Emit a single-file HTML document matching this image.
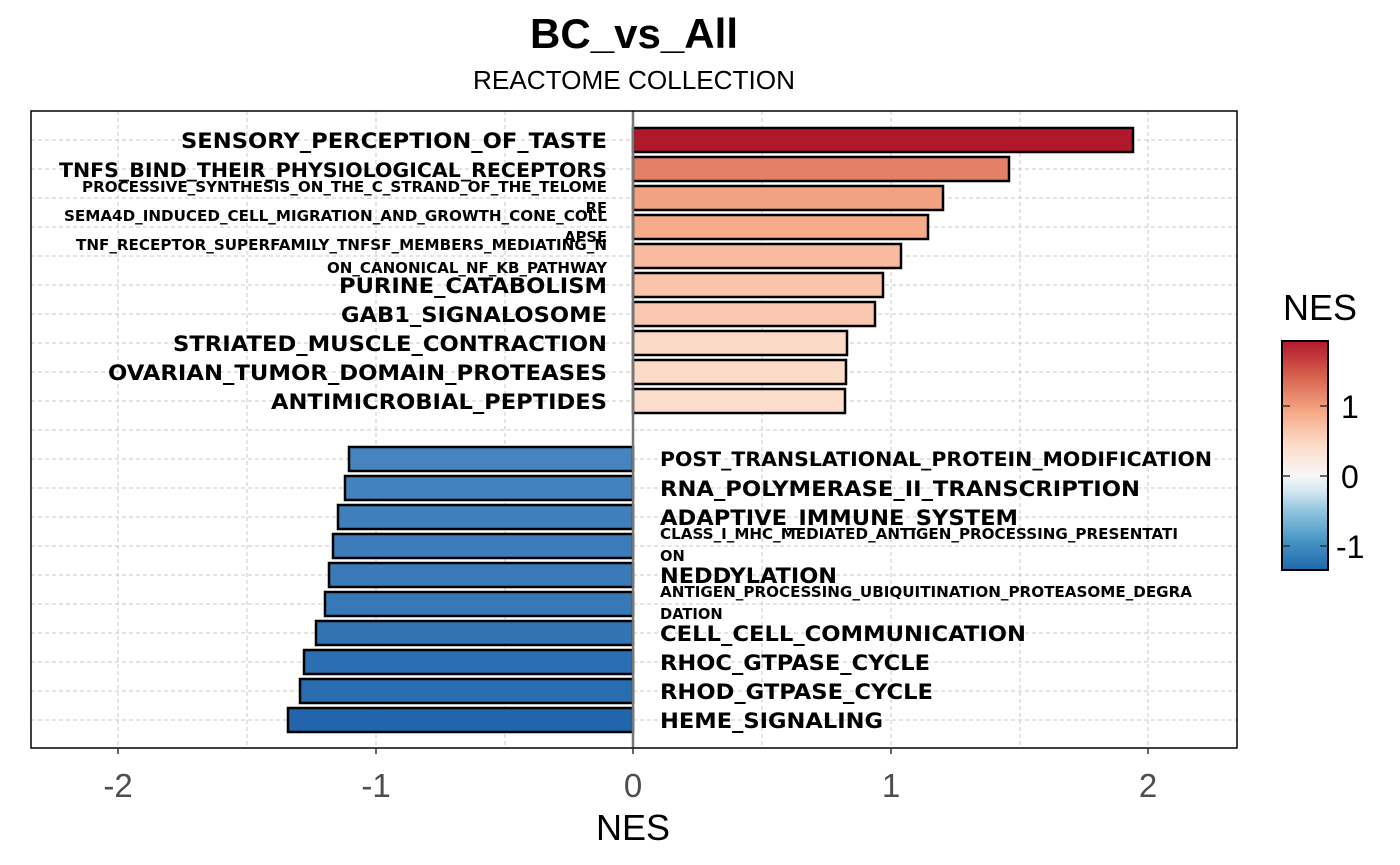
<!DOCTYPE html>
<html><head><meta charset="utf-8"><style>
html,body{margin:0;padding:0;background:#fff}
svg{display:block}
.lb{font-family:"DejaVu Sans","Liberation Sans",sans-serif;font-weight:bold;font-size:21.6px;fill:#000}
.lb2{font-family:"DejaVu Sans","Liberation Sans",sans-serif;font-weight:bold;font-size:19.6px;fill:#000}
.sm{font-family:"DejaVu Sans","Liberation Sans",sans-serif;font-weight:bold;font-size:14.7px;fill:#000}
.ax{font-family:"Liberation Sans",sans-serif;font-size:33px;fill:#4d4d4d}
</style></head><body>
<svg width="1400" height="865" viewBox="0 0 1400 865" xmlns="http://www.w3.org/2000/svg">
<defs><linearGradient id="g" x1="0" y1="1" x2="0" y2="0">
<stop offset="0" stop-color="#2166ac"/><stop offset="0.12" stop-color="#4393c3"/><stop offset="0.26" stop-color="#92c5de"/><stop offset="0.34" stop-color="#d1e5f0"/><stop offset="0.41" stop-color="#f7f7f7"/><stop offset="0.55" stop-color="#fddbc7"/><stop offset="0.7" stop-color="#f4a582"/><stop offset="0.85" stop-color="#d6604d"/><stop offset="1" stop-color="#b2182b"/>
</linearGradient></defs>
<text x="634" y="48" text-anchor="middle" font-family="Liberation Sans,sans-serif" font-weight="bold" font-size="42" textLength="208" lengthAdjust="spacingAndGlyphs">BC_vs_All</text>
<text x="634" y="89" text-anchor="middle" font-family="Liberation Sans,sans-serif" font-size="26" textLength="322" lengthAdjust="spacingAndGlyphs">REACTOME COLLECTION</text>
<g stroke="#c8c8c8" stroke-width="1" stroke-dasharray="4,3" fill="none">
<line x1="118" y1="111" x2="118" y2="748"/><line x1="247" y1="111" x2="247" y2="748"/><line x1="376" y1="111" x2="376" y2="748"/><line x1="505" y1="111" x2="505" y2="748"/><line x1="762" y1="111" x2="762" y2="748"/><line x1="891" y1="111" x2="891" y2="748"/><line x1="1020" y1="111" x2="1020" y2="748"/><line x1="1148" y1="111" x2="1148" y2="748"/>
<path d="M31 140H1237M31 169H1237M31 198H1237M31 227H1237M31 256H1237M31 285H1237M31 314H1237M31 343H1237M31 372H1237M31 401H1237M31 430H1237M31 459H1237M31 488H1237M31 517H1237M31 546H1237M31 575H1237M31 604H1237M31 633H1237M31 662H1237M31 691H1237M31 720H1237"/>
</g>
<g stroke="#000" stroke-width="2.5">
<rect x="633" y="128" width="500" height="24" fill="#b2182b"/>
<rect x="633" y="157" width="376" height="24" fill="#e48066"/>
<rect x="633" y="186" width="310" height="24" fill="#f3a281"/>
<rect x="633" y="215" width="295" height="24" fill="#f5ab8a"/>
<rect x="633" y="244" width="268" height="24" fill="#f8bb9f"/>
<rect x="633" y="273" width="250" height="24" fill="#f9c4aa"/>
<rect x="633" y="302" width="242" height="24" fill="#fac8b0"/>
<rect x="633" y="331" width="214" height="24" fill="#fcdac8"/>
<rect x="633" y="360" width="213" height="24" fill="#fcdbc9"/>
<rect x="633" y="389" width="212" height="24" fill="#fcdcca"/>
<rect x="349" y="447" width="284" height="24" fill="#4584be"/>
<rect x="345" y="476" width="288" height="24" fill="#4282bd"/>
<rect x="338" y="505" width="295" height="24" fill="#3f7fbb"/>
<rect x="333" y="534" width="300" height="24" fill="#3c7cba"/>
<rect x="329" y="563" width="304" height="24" fill="#3a7ab9"/>
<rect x="325" y="592" width="308" height="24" fill="#3778b7"/>
<rect x="316" y="621" width="317" height="24" fill="#3273b4"/>
<rect x="304" y="650" width="329" height="24" fill="#2b6eb1"/>
<rect x="300" y="679" width="333" height="24" fill="#296caf"/>
<rect x="288" y="708" width="345" height="24" fill="#2166ac"/>
</g>
<line x1="633" y1="111" x2="633" y2="748" stroke="#777" stroke-width="2.5"/>
<rect x="31" y="111" width="1206" height="637" fill="none" stroke="#000" stroke-width="1.5"/>
<g text-anchor="end" lengthAdjust="spacingAndGlyphs">
<text class="lb" x="607" y="148" textLength="426" lengthAdjust="spacingAndGlyphs">SENSORY_PERCEPTION_OF_TASTE</text>
<text class="lb2" x="607" y="177" textLength="548" lengthAdjust="spacingAndGlyphs">TNFS_BIND_THEIR_PHYSIOLOGICAL_RECEPTORS</text>
<text class="sm" x="607" y="192" textLength="525" lengthAdjust="spacingAndGlyphs">PROCESSIVE_SYNTHESIS_ON_THE_C_STRAND_OF_THE_TELOME</text>
<text class="sm" x="607" y="213">RE</text>
<text class="sm" x="607" y="221" textLength="543" lengthAdjust="spacingAndGlyphs">SEMA4D_INDUCED_CELL_MIGRATION_AND_GROWTH_CONE_COLL</text>
<text class="sm" x="607" y="242">APSE</text>
<text class="sm" x="607" y="250" textLength="531" lengthAdjust="spacingAndGlyphs">TNF_RECEPTOR_SUPERFAMILY_TNFSF_MEMBERS_MEDIATING_N</text>
<text class="sm" x="607" y="273" textLength="280" lengthAdjust="spacingAndGlyphs">ON_CANONICAL_NF_KB_PATHWAY</text>
<text class="lb" x="607" y="293" textLength="268" lengthAdjust="spacingAndGlyphs">PURINE_CATABOLISM</text>
<text class="lb" x="607" y="322" textLength="266" lengthAdjust="spacingAndGlyphs">GAB1_SIGNALOSOME</text>
<text class="lb" x="607" y="351" textLength="434" lengthAdjust="spacingAndGlyphs">STRIATED_MUSCLE_CONTRACTION</text>
<text class="lb" x="607" y="380" textLength="499" lengthAdjust="spacingAndGlyphs">OVARIAN_TUMOR_DOMAIN_PROTEASES</text>
<text class="lb" x="607" y="409" textLength="336" lengthAdjust="spacingAndGlyphs">ANTIMICROBIAL_PEPTIDES</text>
</g>
<g>
<text class="lb2" x="660" y="466" textLength="552" lengthAdjust="spacingAndGlyphs">POST_TRANSLATIONAL_PROTEIN_MODIFICATION</text>
<text class="lb" x="660" y="496" textLength="480" lengthAdjust="spacingAndGlyphs">RNA_POLYMERASE_II_TRANSCRIPTION</text>
<text class="lb" x="660" y="525" textLength="358" lengthAdjust="spacingAndGlyphs">ADAPTIVE_IMMUNE_SYSTEM</text>
<text class="sm" x="660" y="539" textLength="518" lengthAdjust="spacingAndGlyphs">CLASS_I_MHC_MEDIATED_ANTIGEN_PROCESSING_PRESENTATI</text>
<text class="sm" x="660" y="561">ON</text>
<text class="lb" x="660" y="583" textLength="177" lengthAdjust="spacingAndGlyphs">NEDDYLATION</text>
<text class="sm" x="660" y="597" textLength="532" lengthAdjust="spacingAndGlyphs">ANTIGEN_PROCESSING_UBIQUITINATION_PROTEASOME_DEGRA</text>
<text class="sm" x="660" y="619">DATION</text>
<text class="lb" x="660" y="641" textLength="366" lengthAdjust="spacingAndGlyphs">CELL_CELL_COMMUNICATION</text>
<text class="lb" x="660" y="670" textLength="270" lengthAdjust="spacingAndGlyphs">RHOC_GTPASE_CYCLE</text>
<text class="lb" x="660" y="699" textLength="273" lengthAdjust="spacingAndGlyphs">RHOD_GTPASE_CYCLE</text>
<text class="lb" x="660" y="728" textLength="223" lengthAdjust="spacingAndGlyphs">HEME_SIGNALING</text>
</g>
<g stroke="#333" stroke-width="1.5"><path d="M118 748v6M376 748v6M633 748v6M891 748v6M1148 748v6"/></g>
<g text-anchor="middle">
<text class="ax" x="118" y="797">-2</text><text class="ax" x="376" y="797">-1</text><text class="ax" x="633" y="797">0</text><text class="ax" x="891" y="797">1</text><text class="ax" x="1148" y="797">2</text>
<text x="633" y="840" font-family="Liberation Sans,sans-serif" font-size="36">NES</text>
<text x="1320" y="320" font-family="Liberation Sans,sans-serif" font-size="36">NES</text>
</g>
<rect x="1282" y="341" width="46" height="229" fill="url(#g)" stroke="#000" stroke-width="2"/>
<g stroke="#333" stroke-width="1.5"><path d="M1282 406h8M1320 406h8M1282 476h8M1320 476h8M1282 546h8M1320 546h8"/></g>
<g font-family="Liberation Sans,sans-serif" font-size="32" fill="#000">
<text x="1341" y="418">1</text><text x="1341" y="488">0</text><text x="1336" y="558">-1</text>
</g>
</svg>
</body></html>
